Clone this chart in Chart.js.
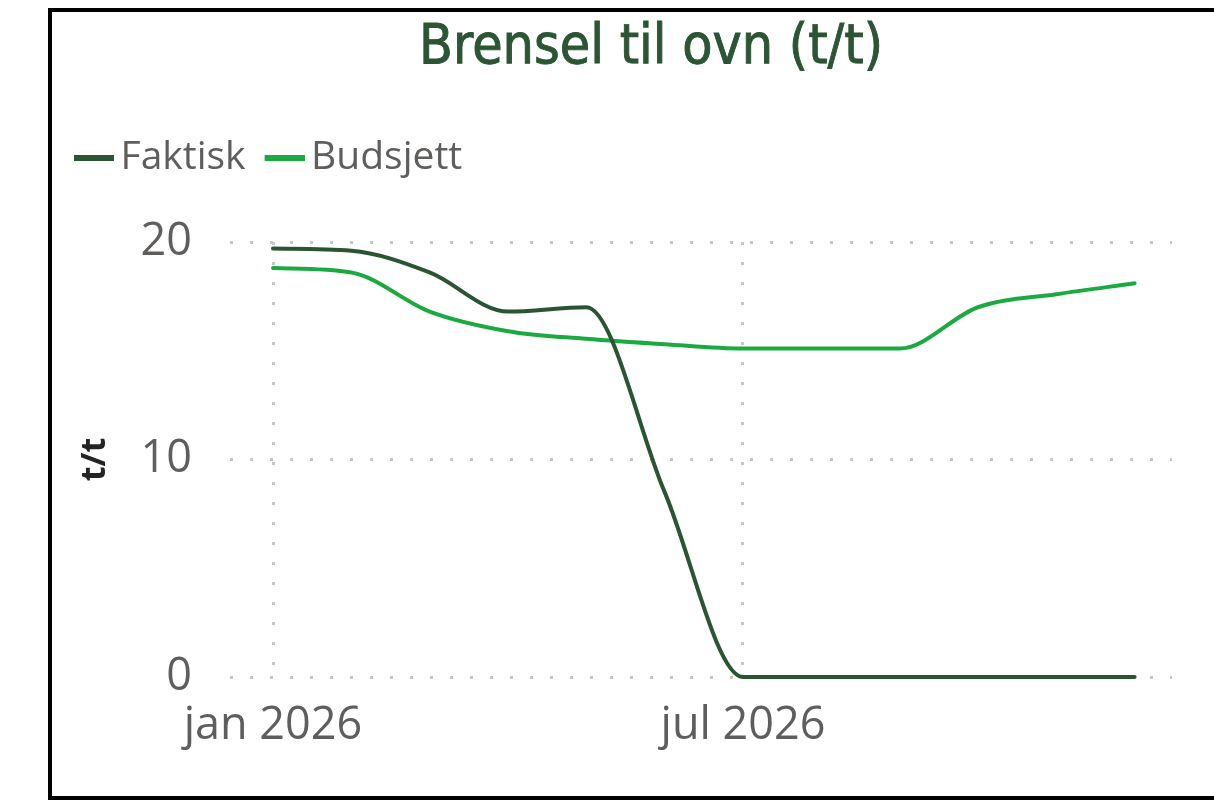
<!DOCTYPE html>
<html>
<head>
<meta charset="utf-8">
<script src="https://cdn.jsdelivr.net/npm/chart.js@4.4.1/dist/chart.umd.min.js"></script>
<style>
  html, body { margin: 0; padding: 0; background: #fff; overflow: hidden; }
  #frame { position: absolute; left: 48px; top: 8px; width: 1195px; height: 784px; border: 4px solid #000; background: #fff; }
  #frame canvas { display: block; }
</style>
</head>
<body>
<div id="frame"><canvas id="chart" width="1195" height="784"></canvas></div>
<script>
// --- data ---
const months = ['jan 2026', 'feb 2026', 'mar 2026', 'apr 2026', 'mai 2026', 'jun 2026',
                'jul 2026', 'aug 2026', 'sep 2026', 'okt 2026', 'nov 2026', 'des 2026'];
const faktisk  = [19.7, 19.6, 18.6, 16.8, 17.0, 8.5, 0, 0, 0, 0, 0, 0];
const budsjett = [18.8, 18.6, 16.8, 15.9, 15.55, 15.3, 15.1, 15.1, 15.1, 17.0, 17.6, 18.1];
const xTickIdx = [0, 6];
const yTicks   = [0, 10, 20];

const COL = {
    dark: '#2A5532',
    light: '#1BAA40',
    title: '#2B5533',
    text: '#605E5C',
    axisTitle: '#252423',
    grid: '#C8C6C4'
};

const TITLE_FONT = { family: "'DejaVu Sans Condensed', 'DejaVu Sans', sans-serif", size: 55, weight: 'normal', lineHeight: 1.2 };

// legend marker: a short line drawn a bit right of centre so it sits close to the text
const marker = (color) => {
    const c = document.createElement('canvas');
    c.width = 62; c.height = 6;
    const g = c.getContext('2d');
    g.fillStyle = color;
    g.fillRect(22, 0, 40, 6);
    return c;
};
const markers = [marker(COL.dark), marker(COL.light)];

const toPoints = (arr) => arr.map((v, i) => ({ x: i, y: v }));

// extra room between legend and plot
const legendGap = {
    id: 'legendGap',
    beforeInit(chart) {
        const fit = chart.legend.fit;
        chart.legend.fit = function () {
            fit.call(this);
            this.height += 55;
        };
    }
};

// thin outline over the title so it reads as a medium weight
const titleWeight = {
    id: 'titleWeight',
    afterDraw(chart) {
        const t = chart.titleBlock;
        if (!t) return;
        const o = t.options;
        const ctx = chart.ctx;
        ctx.save();
        ctx.font = `${TITLE_FONT.weight} ${TITLE_FONT.size}px ${TITLE_FONT.family}`;
        ctx.textAlign = 'center';
        ctx.textBaseline = 'middle';
        ctx.strokeStyle = o.color;
        ctx.lineWidth = 0.9;
        ctx.strokeText(o.text, (t.left + t.right) / 2, t.top + o.padding.top + TITLE_FONT.size * TITLE_FONT.lineHeight / 2);
        ctx.restore();
    }
};

const tickFont = { family: "'Open Sans', sans-serif", size: 45 };

new Chart(document.getElementById('chart').getContext('2d'), {
    type: 'line',
    data: {
        datasets: [
            { label: 'Faktisk', data: toPoints(faktisk), borderColor: COL.dark, backgroundColor: COL.dark,
              borderWidth: 4, pointRadius: 0, cubicInterpolationMode: 'monotone', borderCapStyle: 'round', clip: false },
            { label: 'Budsjett', data: toPoints(budsjett), borderColor: COL.light, backgroundColor: COL.light,
              borderWidth: 4, pointRadius: 0, cubicInterpolationMode: 'monotone', borderCapStyle: 'round', clip: false }
        ]
    },
    options: {
        responsive: false,
        animation: false,
        layout: { padding: { left: 3, right: 0, top: 0, bottom: 0 } },
        plugins: {
            tooltip: { enabled: false },
            title: {
                display: true,
                text: 'Brensel til ovn (t/t)',
                color: COL.title,
                font: TITLE_FONT,
                padding: { top: 4, bottom: 46 }
            },
            legend: {
                display: true,
                position: 'top',
                align: 'start',
                labels: {
                    usePointStyle: true,
                    pointStyleWidth: 36,
                    padding: 10,
                    color: COL.text,
                    font: { family: "'Open Sans', sans-serif", size: 39 },
                    generateLabels(chart) {
                        const items = Chart.defaults.plugins.legend.labels.generateLabels(chart);
                        items.forEach((it, i) => { it.pointStyle = markers[i]; });
                        return items;
                    }
                }
            }
        },
        scales: {
            x: {
                type: 'linear',
                min: -0.549,
                max: 11.477,
                afterBuildTicks: (s) => { s.ticks = xTickIdx.map(v => ({ value: v })); },
                afterFit: (s) => { s.height = 119; },
                ticks: {
                    autoSkip: false, maxRotation: 0, padding: 22,
                    color: COL.text, font: tickFont,
                    callback: (v) => months[v]
                },
                grid: { color: COL.grid, lineWidth: 3, drawTicks: false },
                border: { display: false, dash: [3, 17] }
            },
            y: {
                min: 0,
                max: 20,
                afterBuildTicks: (s) => { s.ticks = yTicks.map(v => ({ value: v })); },
                afterFit: (s) => { s.width = 175; },
                ticks: { padding: 38, color: COL.text, font: tickFont },
                grid: { color: COL.grid, lineWidth: 3, drawTicks: false },
                border: { display: false, dash: [3, 17] },
                title: {
                    display: true, text: 't/t', color: COL.axisTitle,
                    font: { family: "'Open Sans', sans-serif", size: 34, weight: 'bold' },
                    padding: { top: 20, bottom: 0 }
                }
            },
            yRight: {
                type: 'linear',
                position: 'right',
                display: true,
                afterFit: (s) => { s.width = 75; },
                ticks: { display: false },
                grid: { display: false },
                border: { display: false }
            }
        }
    },
    plugins: [legendGap, titleWeight]
});
</script>
</body>
</html>
